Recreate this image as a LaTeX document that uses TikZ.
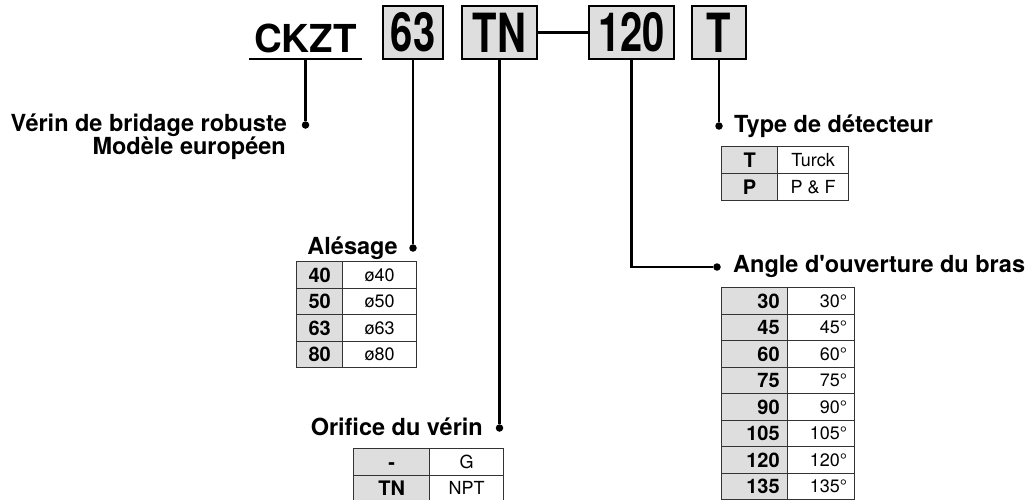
\documentclass[tikz,border=0pt]{standalone}
\usepackage{fontspec}
% plain family: no TeX mapping, so the apostrophe stays straight
\newfontfamily\heros{TeX Gyre Heros}
\definecolor{boxgray}{gray}{0.87}
\definecolor{tline}{gray}{0.2}
\newcommand\condtxt[1]{\scalebox{0.74}[1]{#1}}
\begin{document}
\begin{tikzpicture}[x=1pt,y=-1pt, font=\heros,
  conn/.style={line width=2.2pt},
  codebox/.style={draw=black, line width=2pt, fill=boxgray, inner sep=0pt,
    minimum height=53pt, font=\heros\bfseries\fontsize{54}{54}\selectfont},
  lbl/.style={inner sep=0pt, font=\heros\bfseries\fontsize{23.5}{26}\selectfont},
  dot/.style={circle, fill=black, inner sep=0pt, minimum size=7.5pt},
  cell/.style={draw=tline, line width=1.3pt, inner sep=0pt, anchor=north west,
    minimum height=26.5pt},
  keycell/.style={cell, fill=boxgray, text height=14.4pt, text depth=0pt,
    font=\heros\bfseries\fontsize{20}{20}\selectfont},
  valcell/.style={cell, fill=white, text height=13pt, text depth=0pt,
    font=\heros\fontsize{18}{18}\selectfont}]
\useasboundingbox (0,0) rectangle (1032,499);

% ---- ordering code ----
\node[inner xsep=0pt, inner ysep=7pt, text depth=0pt, minimum width=113pt,
  anchor=base, font=\heros\bfseries\fontsize{38.5}{38.5}\selectfont] (ckzt) at (305.5,52) {CKZT};
\draw[conn] (ckzt.south west) -- (ckzt.south east);
\node[codebox, minimum width=60pt] (b63)  at (413,32.5)   {\condtxt{63}};
\node[codebox, minimum width=75pt] (bTN)  at (499.5,32.5) {\condtxt{TN}};
\node[codebox, minimum width=85pt] (b120) at (631.5,32.5) {\condtxt{120}};
\node[codebox, minimum width=54pt] (bT)   at (719,32.5)   {\condtxt{T}};
\draw[conn] (bTN.east) -- (b120.west);

% ---- series ----
\node[dot] (dS) at (ckzt.south |- 0,125) {};
\draw[conn] (ckzt.south) -- (dS);
\node[lbl, anchor=base east] (serie1) at (287,131) {Vérin de bridage robuste};
\node[lbl, anchor=base east] (serie2) at (286,154) {Modèle européen};

% ---- bore ----
\node[dot] (dB) at (b63.south |- 0,248) {};
\draw[conn] (b63.south) -- (dB);
\node[lbl, anchor=base east] (boreT) at (398,254) {Alésage};
\foreach \k/\v [count=\i from 0] in {40/ø40,50/ø50,63/ø63,80/ø80} {
  \node[keycell, minimum width=46pt] (bk\i) at (296,261+26.5*\i) {\k};
  \node[valcell, minimum width=74pt] (bv\i) at (342,261+26.5*\i) {\v};
}

% ---- port ----
\node[dot] (dP) at (bTN.south |- 0,428) {};
\draw[conn] (bTN.south) -- (dP);
\node[lbl, anchor=base east] (portT) at (483,435) {Orifice du vérin};
\foreach \k/\v [count=\i from 0] in {-/G,TN/NPT} {
  \node[keycell, minimum width=76pt] (pk\i) at (353,448+26.5*\i) {\k};
  \node[valcell, minimum width=74pt] (pv\i) at (429,448+26.5*\i) {\v};
}

% ---- arm opening angle ----
\node[dot] (dA) at (717,267) {};
\draw[conn] (b120.south) |- (dA);
\node[lbl, anchor=base west] (angT) at (733,272) {Angle d'ouverture du bras};
\foreach \k [count=\i from 0] in {30,45,60,75,90,105,120,135} {
  \node[keycell, minimum width=66pt, text width=50pt, align=right] (ak\i) at (721,287+26.5*\i) {\k};
  \node[valcell, minimum width=67pt, text width=52pt, align=right] (av\i) at (787,287+26.5*\i) {\k°};
}

% ---- switch type ----
\node[dot] (dT) at (bT.south |- 0,126) {};
\draw[conn] (bT.south) -- (dT);
\node[lbl, anchor=base west] (swT) at (734,132) {Type de détecteur};
\foreach \k/\v [count=\i from 0] in {T/Turck,P/P \& F} {
  \node[keycell, minimum width=56pt] (sk\i) at (721,146+27*\i) {\k};
  \node[valcell, minimum width=71pt] (sv\i) at (777,146+27*\i) {\v};
}
\end{tikzpicture}
\end{document}
